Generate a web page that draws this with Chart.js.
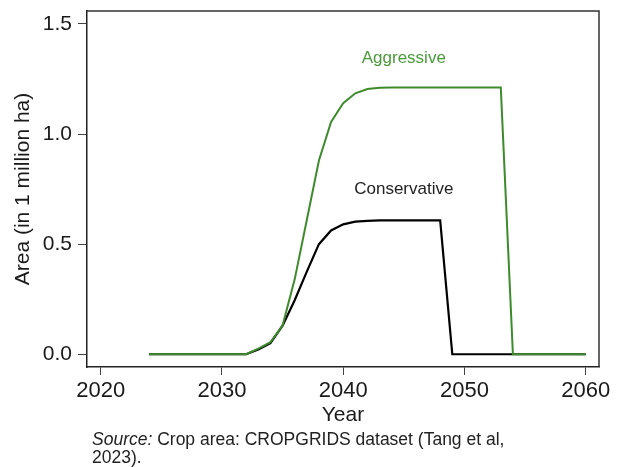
<!DOCTYPE html>
<html>
<head>
<meta charset="utf-8">
<script src="https://cdn.jsdelivr.net/npm/chart.js@4.4.1/dist/chart.umd.min.js"></script>
<style>
  html, body { margin: 0; padding: 0; background: #fff; }
  #wrap { position: relative; width: 619px; height: 467px; }
  #source {
    position: absolute; left: 92px; top: 431px;
    font-family: "Liberation Sans", Arial, sans-serif;
    font-size: 17.5px; line-height: 17.5px; color: #222;
  }
</style>
</head>
<body>
<div id="wrap">
  <canvas id="chart" width="619" height="467"></canvas>
  <div id="source"><i>Source:</i> Crop area: CROPGRIDS dataset (Tang et al,<br>2023).</div>
</div>
<script>
///////////////////////////////
// data
///////////////////////////////
const years = [2024, 2025, 2026, 2027, 2028, 2029, 2030, 2031, 2032, 2033, 2034, 2035, 2036,
  2037, 2038, 2039, 2040, 2041, 2042, 2043, 2044, 2045, 2046, 2047, 2048, 2049, 2050,
  2051, 2052, 2053, 2054, 2055, 2056, 2057, 2058, 2059, 2060];

const aggressive = [0, 0, 0, 0, 0, 0, 0, 0, 0, 0.025, 0.055, 0.13, 0.34,
  0.61, 0.88, 1.055, 1.14, 1.185, 1.205, 1.21, 1.212, 1.212, 1.212, 1.212, 1.212, 1.212, 1.212,
  1.212, 1.212, 1.212, 0, 0, 0, 0, 0, 0, 0];

const conservative = [0, 0, 0, 0, 0, 0, 0, 0, 0, 0.022, 0.05, 0.13, 0.245,
  0.375, 0.50, 0.562, 0.59, 0.602, 0.606, 0.608, 0.608, 0.608, 0.608, 0.608, 0.608, 0, 0,
  0, 0, 0, 0, 0, 0, 0, 0, 0, 0];

const xTicks = [2020, 2030, 2040, 2050, 2060];
const yTicks = [0, 0.5, 1.0, 1.5];

const GREEN = '#3d8b2c';
const FONT = '"Liberation Sans", Arial, sans-serif';

// text labels placed next to the lines (data coords)
const seriesLabels = [
  { text: 'Aggressive', x: 2045, y: 1.344, color: '#4a9a3a' },
  { text: 'Conservative', x: 2045, y: 0.749, color: '#222' },
];

///////////////////////////////
// plugins
///////////////////////////////
// top + right side of the plot box
const frame = {
  id: 'frame',
  afterDraw(chart) {
    const a = chart.chartArea;
    const ctx = chart.ctx;
    ctx.save();
    ctx.strokeStyle = '#333';
    ctx.lineWidth = 1.5;
    ctx.beginPath();
    ctx.moveTo(a.left, a.top);
    ctx.lineTo(a.right, a.top);
    ctx.lineTo(a.right, a.bottom);
    ctx.stroke();
    ctx.restore();
  }
};

const lineLabels = {
  id: 'lineLabels',
  afterDatasetsDraw(chart) {
    const ctx = chart.ctx;
    ctx.save();
    ctx.font = '17px ' + FONT;
    ctx.textAlign = 'center';
    ctx.textBaseline = 'middle';
    seriesLabels.forEach((l) => {
      ctx.fillStyle = l.color;
      ctx.fillText(l.text, chart.scales.x.getPixelForValue(l.x), chart.scales.y.getPixelForValue(l.y));
    });
    ctx.restore();
  }
};

///////////////////////////////
// chart
///////////////////////////////
let ctx = document.getElementById('chart');
let chart = new Chart(ctx, {
  type: 'line',
  data: {
    datasets: [{
      label: 'Aggressive',
      data: years.map((yr, i) => ({ x: yr, y: aggressive[i] })),
      borderColor: GREEN,
      borderWidth: 2,
      pointRadius: 0,
      tension: 0
    }, {
      label: 'Conservative',
      data: years.map((yr, i) => ({ x: yr, y: conservative[i] })),
      borderColor: '#000',
      borderWidth: 2.2,
      pointRadius: 0,
      tension: 0
    }]
  },
  options: {
    responsive: false,
    devicePixelRatio: 1,
    animation: false,
    layout: { padding: { left: 0, right: 20, top: 11, bottom: 38 } },
    plugins: {
      legend: { display: false },
      tooltip: { enabled: false }
    },
    scales: {
      x: {
        type: 'linear',
        min: 2018.87,
        max: 2061.1,
        afterBuildTicks: (s) => { s.ticks = xTicks.map((v) => ({ value: v })); },
        afterFit: (s) => { s.height = 62; },
        ticks: { color: '#1a1a1a', font: { family: FONT, size: 22 }, padding: 3, maxRotation: 0, callback: (v) => String(v) },
        grid: { drawOnChartArea: false, tickLength: 8, color: '#444', lineWidth: 1 },
        border: { color: '#222', width: 1.5 },
        title: { display: true, text: 'Year', color: '#1a1a1a', font: { family: FONT, size: 21 }, padding: { top: 0, bottom: 1 } }
      },
      y: {
        min: -0.058,
        max: 1.559,
        afterBuildTicks: (s) => { s.ticks = yTicks.map((v) => ({ value: v })); },
        afterFit: (s) => { s.width = 87; s.paddingTop = 0; s.paddingBottom = 0; },
        ticks: { color: '#1a1a1a', font: { family: FONT, size: 21 }, padding: 6, callback: (v) => v.toFixed(1) },
        grid: { drawOnChartArea: false, tickLength: 9, color: '#444', lineWidth: 1 },
        border: { color: '#222', width: 1.5 },
        title: { display: true, text: 'Area (in 1 million ha)', color: '#1a1a1a', font: { family: FONT, size: 21 }, padding: { top: 11, bottom: 0 } }
      }
    }
  },
  plugins: [frame, lineLabels]
});
</script>
</body>
</html>
